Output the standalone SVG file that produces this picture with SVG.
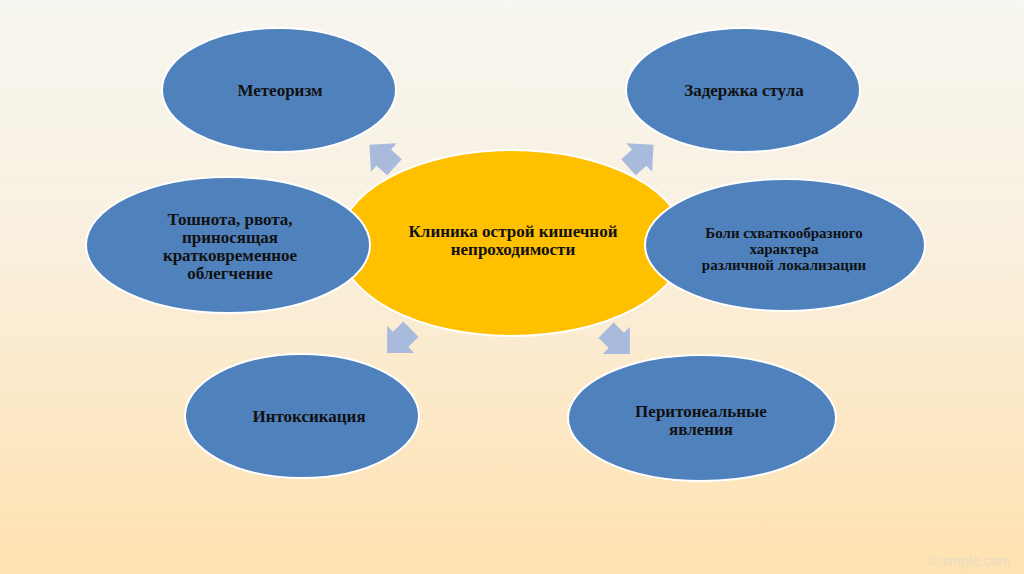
<svg xmlns="http://www.w3.org/2000/svg" width="1024" height="574" viewBox="0 0 1024 574">
<defs>
<linearGradient id="bg" x1="0" y1="0" x2="0" y2="1">
<stop offset="0" stop-color="#F7F6F0"/>
<stop offset="0.4" stop-color="#F9F0E0"/>
<stop offset="1" stop-color="#FFE2B0"/>
</linearGradient>
<polygon id="arr" points="14,0 -2,-16 -2,-9 -14,-9 -14,9 -2,9 -2,16"/>
</defs>
<style>
.blue{fill:#4F81BD;stroke:#FFFFFF;stroke-width:2}
.yel{fill:#FFC000;stroke:#FFFFFF;stroke-width:2}
.t{font-family:"Liberation Serif","Times New Roman",serif;font-weight:bold;font-size:17px;fill:#111;text-anchor:middle}
.s{font-size:15px}
.a{fill:#A8BBDD}
</style>
<rect width="1024" height="574" fill="url(#bg)"/>
<g id="connectors">
<use href="#arr" class="a" transform="translate(382,156) rotate(-138) scale(1.2)"/>
<use href="#arr" class="a" transform="translate(641,156) rotate(-42) scale(1.2)"/>
<use href="#arr" class="a" transform="translate(399,341) rotate(135) scale(1.2)"/>
<use href="#arr" class="a" transform="translate(618,342) rotate(45) scale(1.2)"/>
</g>
<g id="center">
<ellipse class="yel" cx="512" cy="243" rx="173" ry="93"/>
<text class="t" x="513" y="237">Клиника острой кишечной</text>
<text class="t" x="513" y="255">непроходимости</text>
</g>
<g id="meteorizm">
<ellipse class="blue" cx="279" cy="90" rx="117" ry="62"/>
<text class="t" x="280" y="96">Метеоризм</text>
</g>
<g id="zaderzhka">
<ellipse class="blue" cx="743" cy="90" rx="117" ry="62"/>
<text class="t" x="744" y="96">Задержка стула</text>
</g>
<g id="toshnota">
<ellipse class="blue" cx="228" cy="245" rx="142" ry="68"/>
<text class="t" x="230" y="225">Тошнота, рвота,</text>
<text class="t" x="230" y="243">приносящая</text>
<text class="t" x="230" y="261">кратковременное</text>
<text class="t" x="230" y="279">облегчение</text>
</g>
<g id="boli">
<ellipse class="blue" cx="785" cy="245" rx="140" ry="66"/>
<text class="t s" x="784" y="238">Боли схваткообразного</text>
<text class="t s" x="784" y="254">характера</text>
<text class="t s" x="784" y="270">различной локализации</text>
</g>
<g id="intoksikatsiya">
<ellipse class="blue" cx="302" cy="416" rx="117" ry="62"/>
<text class="t" x="309" y="422">Интоксикация</text>
</g>
<g id="peritoneal">
<ellipse class="blue" cx="702" cy="418" rx="134" ry="63"/>
<text class="t" x="701" y="417">Перитонеальные</text>
<text class="t" x="701" y="435">явления</text>
</g>
<text x="1010" y="566" font-family="Liberation Sans, Arial, sans-serif" font-size="14" fill="#E9DCC6" text-anchor="end">© xmple.com</text>
</svg>
